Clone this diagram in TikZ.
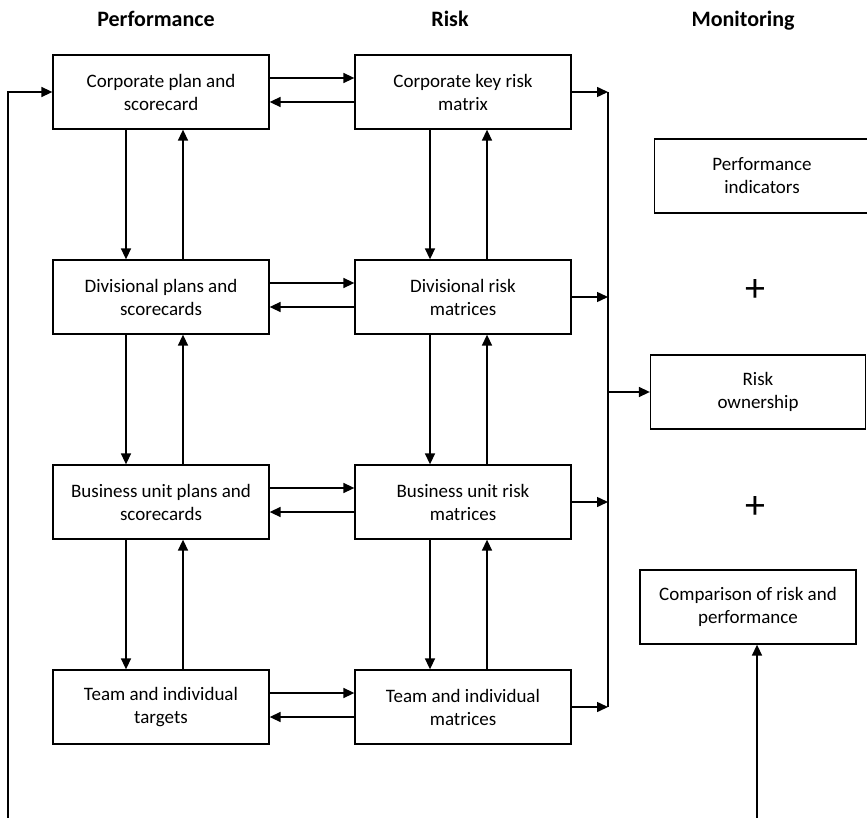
\documentclass[tikz,border=0pt]{standalone}
\usepackage{fontspec}
\setmainfont{Carlito}
\usetikzlibrary{arrows.meta,calc}
\begin{document}
\begin{tikzpicture}[x=1pt,y=-1pt,
  box/.style={draw,line width=1.3pt,minimum width=216pt,minimum height=74pt,
    align=center,inner sep=2pt,font=\fontsize{19}{23}\selectfont},
  head/.style={font=\fontsize{22}{26}\selectfont\bfseries,anchor=base},
  conn/.style={line width=1.5pt,-{Triangle[length=11pt,width=10pt]}},
  plain/.style={line width=1.5pt},
  plus/.style={font=\fontsize{40}{42}\selectfont}]
\useasboundingbox (0,0) rectangle (867,818);

% column headings
\node[head] (hP) at (156,27) {Performance};
\node[head] (hR) at (450,27) {Risk};
\node[head] (hM) at (743,27) {Monitoring};

% performance column
\node[box] (p1) at (161,92)  {Corporate plan and\\scorecard};
\node[box] (p2) at (161,297) {Divisional plans and\\scorecards};
\node[box] (p3) at (161,502) {Business unit plans and\\scorecards};
\node[box] (p4) at (161,707) {Team and individual\\targets};

% risk column
\node[box] (r1) at (463,92)  {Corporate key risk\\matrix};
\node[box] (r2) at (463,297) {Divisional risk\\matrices};
\node[box] (r3) at (463,502) {Business unit risk\\matrices};
\node[box] (r4) at (463,707) {Team and individual\\matrices};

% monitoring column
\node[box,minimum width=215pt] (m1) at (762,176) {Performance\\indicators};
\node[box,minimum width=215pt] (m2) at (758,392) {Risk\\ownership};
\node[box,minimum width=216pt] (m3) at (748,607) {Comparison of risk and\\performance};
\node[plus] (plus1) at (755,291) {+};
\node[plus] (plus2) at (755,508) {+};

% horizontal links between performance and risk
\foreach \i in {1,2,3,4}{
  \draw[conn] ($(p\i.east)+(0,-14)$) -- ($(r\i.west)+(0,-14)$);
  \draw[conn] ($(r\i.west)+(0,10)$) -- ($(p\i.east)+(0,10)$);
}

% vertical links down and up each column
\foreach \a/\b in {1/2,2/3,3/4}{
  \draw[conn] ($(p\a.south)+(-35,0)$) -- ($(p\b.north)+(-35,0)$);
  \draw[conn] ($(p\b.north)+(22,0)$) -- ($(p\a.south)+(22,0)$);
  \draw[conn] ($(r\a.south)+(-33,0)$) -- ($(r\b.north)+(-33,0)$);
  \draw[conn] ($(r\b.north)+(24,0)$) -- ($(r\a.south)+(24,0)$);
}

% collecting bar on the right of the risk column
\coordinate (barT) at (608,92);
\coordinate (barB) at (608,707);
\draw[plain] (barT) -- (barB);
\foreach \i in {1,2,3,4}{
  \draw[conn] (r\i.east) -- (r\i.east -| barT);
}
\draw[conn] (barT |- m2.west) -- (m2.west);

% feedback loop along the bottom
\coordinate (loopL) at (8,820);
\coordinate (loopR) at (757,820);
\draw[conn] (loopL) -- (loopL |- p1.west) -- (p1.west);
\draw[conn] (loopR) -- (loopR |- m3.south);
\end{tikzpicture}
\end{document}
